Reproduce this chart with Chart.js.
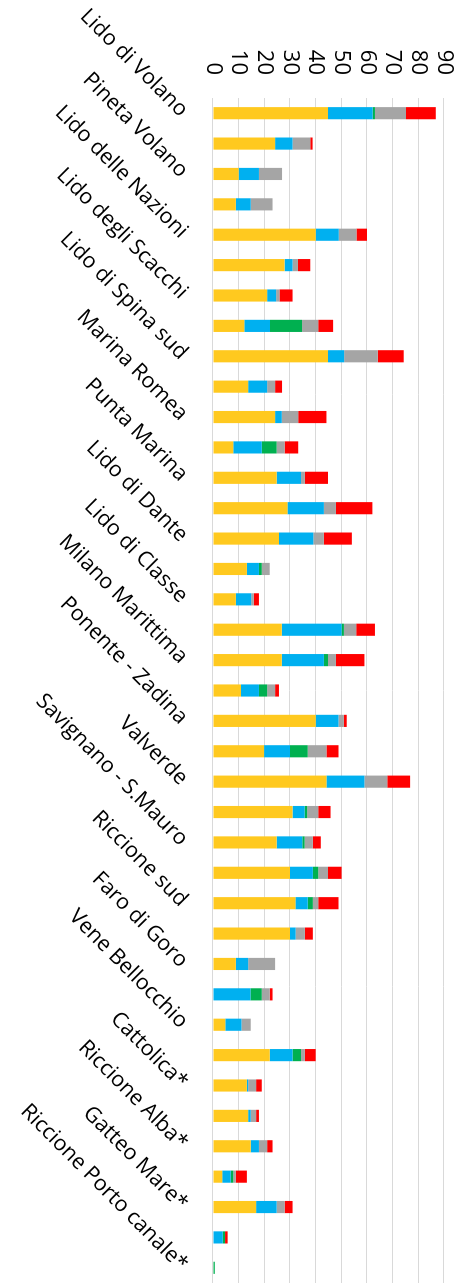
<!DOCTYPE html>
<html>
<head>
<meta charset="utf-8">
<script src="https://cdn.jsdelivr.net/npm/chart.js@4/dist/chart.umd.min.js"></script>
<style>
    html, body { margin: 0; padding: 0; background: #fff; }
    body { width: 474px; height: 1283px; overflow: hidden; position: relative; }
    /* column chart drawn landscape, then turned a quarter clockwise */
    #wrap {
        position: absolute; left: 0; top: 0;
        width: 1283px; height: 474px;
        transform-origin: 0 0;
        transform: translateX(474px) rotate(90deg);
    }
</style>
</head>
<body>
<div id="wrap"><canvas id="myChart"></canvas></div>
<script>
// stations (only every other name is printed on the axis)
var stazioni = [
    'Lido di Volano', '', 'Pineta Volano', '', 'Lido delle Nazioni', '',
    'Lido degli Scacchi', '', 'Lido di Spina sud', '', 'Marina Romea', '',
    'Punta Marina', '', 'Lido di Dante', '', 'Lido di Classe', '',
    'Milano Marittima', '', 'Ponente - Zadina', '', 'Valverde', '',
    'Savignano - S.Mauro', '', 'Riccione sud', '', 'Faro di Goro', '',
    'Vene Bellocchio', '', 'Cattolica*', '', 'Riccione Alba*', '',
    'Gatteo Mare*', '', 'Riccione Porto canale*'
];

var serieGialla = [44.8, 24.2, 10.0, 8.9, 40.0, 27.9, 21.1, 12.2, 44.8, 13.7,
    24.2, 7.9, 24.8, 29.0, 25.7, 13.2, 8.9, 26.8, 26.8, 10.9,
    40.0, 19.9, 44.2, 31.0, 24.8, 30.0, 32.1, 30.0, 8.9, 0,
    4.8, 22.1, 13.2, 13.7, 14.7, 3.6, 16.8, 0, 0];
var serieBlu = [17.4, 6.8, 7.9, 5.8, 9.0, 3.1, 3.5, 10.0, 6.3, 7.4,
    2.6, 11.1, 9.5, 14.2, 13.4, 4.7, 6.0, 23.3, 16.4, 7.0,
    8.9, 10.1, 14.8, 4.7, 10.0, 8.9, 4.8, 2.2, 4.8, 14.6,
    6.3, 8.9, 0.5, 1.0, 3.2, 3.3, 8.0, 3.8, 0];
var serieVerde = [0.9, 0, 0, 0, 0, 0, 0, 12.5, 0, 0,
    0, 5.8, 0, 0, 0, 1.1, 0, 0.9, 1.6, 3.2,
    0, 6.9, 0, 1.0, 0.9, 2.1, 2.0, 0, 0, 4.4,
    0, 3.3, 0, 0, 0, 1.0, 0, 0.9, 0.7];
var serieGrigia = [12.1, 6.9, 9.0, 8.5, 6.9, 2.1, 1.3, 6.3, 13.1, 3.1,
    6.4, 3.1, 1.5, 4.7, 4.1, 3.1, 1.0, 4.8, 3.1, 3.1,
    2.1, 7.3, 8.9, 4.3, 3.2, 3.8, 2.1, 3.6, 10.5, 3.1,
    3.6, 1.5, 3.1, 2.1, 3.2, 1.0, 3.1, 0, 0];
var serieRossa = [11.6, 0.9, 0, 0, 4.1, 4.8, 5.1, 5.8, 10.1, 2.7,
    11.0, 5.3, 9.0, 14.2, 10.9, 0, 2.0, 7.3, 11.1, 1.5,
    1.1, 4.7, 8.9, 4.8, 3.1, 5.3, 7.9, 3.1, 0, 1.1,
    0, 4.2, 2.2, 1.1, 2.1, 4.3, 3.1, 1.0, 0];

var valoreMax = 90;
var passo = 10;

var ctx = document.getElementById('myChart');
var myChart = new Chart(ctx, {
    type: 'bar',
    data: {
        labels: stazioni,
        datasets: [
            { label: 'Serie 1', data: serieGialla, backgroundColor: '#FFC91F' },
            { label: 'Serie 2', data: serieBlu, backgroundColor: '#00B0F0' },
            { label: 'Serie 3', data: serieVerde, backgroundColor: '#00B050' },
            { label: 'Serie 4', data: serieGrigia, backgroundColor: '#A5A5A5' },
            { label: 'Serie 5', data: serieRossa, backgroundColor: '#FF0000' }
        ]
    },
    options: {
        responsive: true,
        maintainAspectRatio: false,
        animation: false,
        barPercentage: 0.4,
        categoryPercentage: 1,
        layout: { padding: { top: 30, left: 0, right: 0, bottom: 0 } },
        plugins: {
            legend: { display: false },
            tooltip: { enabled: false }
        },
        scales: {
            x: {
                stacked: true,
                grid: { display: false, drawTicks: false },
                border: { display: true, color: '#D9D9D9', width: 1 },
                ticks: {
                    autoSkip: false,
                    minRotation: 45,
                    maxRotation: 45,
                    padding: 20,
                    color: '#000',
                    font: { family: "'Open Sans', sans-serif", size: 21.5 }
                },
                afterFit: function (scale) {
                    scale.height = 213;
                    // let the bars run to the edge, names may overhang
                    scale.paddingLeft = 0;
                    scale.paddingRight = 0;
                }
            },
            y: {
                stacked: true,
                min: 0,
                max: valoreMax,
                grid: { color: '#D9D9D9', lineWidth: 1, drawTicks: false },
                border: { display: false },
                ticks: {
                    stepSize: passo,
                    autoSkip: false,
                    padding: 23,
                    color: '#000',
                    font: { family: "'Open Sans', sans-serif", size: 22 }
                },
                afterFit: function (scale) {
                    scale.width = 98;
                    // top of the value range sits exactly at the layout padding
                    scale.paddingTop = 0;
                    scale.paddingBottom = 0;
                }
            }
        }
    }
});
</script>
</body>
</html>
